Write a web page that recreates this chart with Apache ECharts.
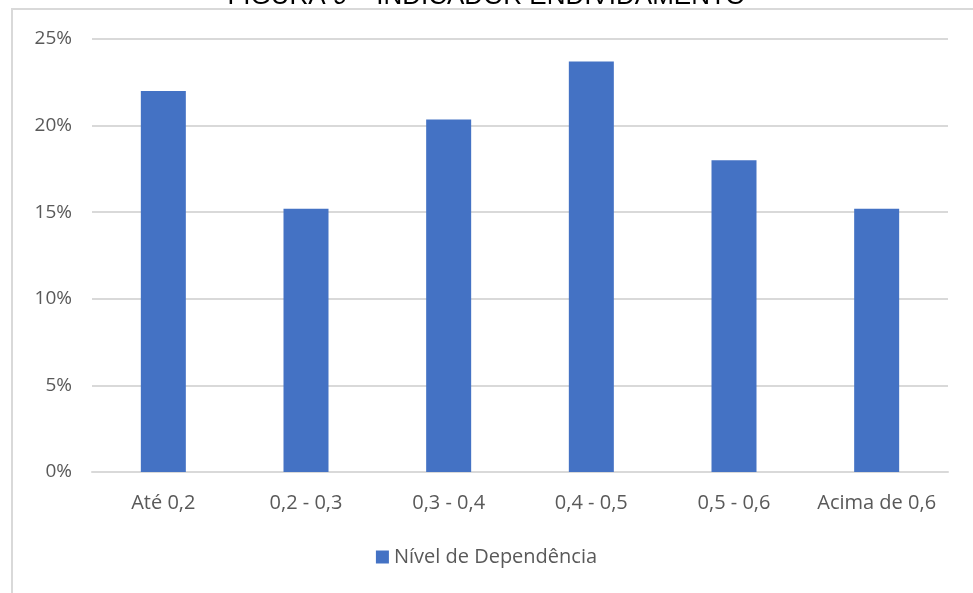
<!DOCTYPE html>
<html>
<head>
<meta charset="utf-8">
<script src="https://cdn.jsdelivr.net/npm/echarts@6/dist/echarts.min.js"></script>
<style>
  html, body { margin: 0; padding: 0; background: #ffffff; }
  #chart { width: 973px; height: 593px; }
</style>
</head>
<body>
<div id="chart"></div>
<script>
// Faixas do indicador e percentual de empresas em cada faixa
const categories = ['Até 0,2', '0,2 - 0,3', '0,3 - 0,4', '0,4 - 0,5', '0,5 - 0,6', 'Acima de 0,6'];
const nivelDependencia = [22.0, 15.2, 20.35, 23.7, 18.0, 15.2];
const yTicks = [0, 5, 10, 15, 20, 25];
const seriesName = 'Nível de Dependência';
const titleText = 'FIGURA 9 – INDICADOR ENDIVIDAMENTO';

const chart = echarts.init(document.getElementById('chart'), null, { renderer: 'canvas' });
const font = '"Open Sans", "Noto Sans", sans-serif';

chart.setOption({
  animation: false,
  backgroundColor: '#ffffff',
  title: {
    text: titleText,
    left: 'center',
    top: -21,
    textStyle: { fontFamily: 'Liberation Sans, Arial, sans-serif', fontSize: 26, fontWeight: 'normal', color: '#000000' }
  },
  graphic: [{
    type: 'rect',
    shape: { x: 12, y: 9, width: 980, height: 600 },
    style: { fill: 'transparent', stroke: '#d9d9d9', lineWidth: 2 },
    z: -1
  }],
  grid: { left: 92, right: 25, top: 39, bottom: 121 },
  legend: {
    bottom: 21,
    left: 'center',
    itemWidth: 13,
    itemHeight: 13,
    itemGap: 6,
    icon: 'rect',
    textStyle: { fontFamily: font, fontSize: 20, color: '#595959' },
    data: [seriesName]
  },
  xAxis: {
    type: 'category',
    data: categories,
    axisLine: { lineStyle: { color: '#d9d9d9', width: 2 } },
    axisTick: { show: false },
    axisLabel: { interval: 0, fontFamily: font, fontSize: 20, color: '#595959', margin: 21 }
  },
  yAxis: {
    type: 'value',
    min: yTicks[0],
    max: yTicks[yTicks.length - 1],
    interval: 5,
    axisLine: { show: false },
    axisTick: { show: false },
    splitLine: { lineStyle: { color: '#d9d9d9', width: 2 } },
    axisLabel: { fontFamily: font, fontSize: 19, color: '#595959', margin: 20, formatter: v => v + '%' }
  },
  series: [{
    name: seriesName,
    type: 'bar',
    data: nivelDependencia,
    barWidth: 45,
    itemStyle: { color: '#4472c4' }
  }]
});
</script>
</body>
</html>
